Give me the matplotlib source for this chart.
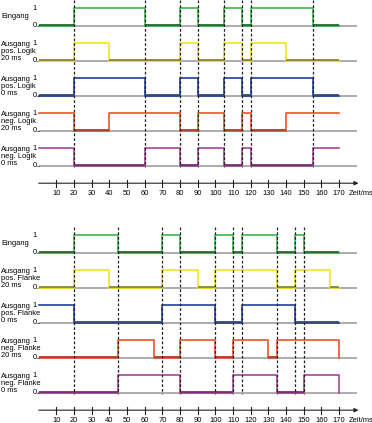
import numpy as np
import matplotlib
import matplotlib.pyplot as plt

matplotlib.use("Agg")
plt.rcParams["font.family"] = ["Liberation Sans", "DejaVu Sans"]

# --- data ---------------------------------------------------------------
labels = ["Eingang",
          "Ausgang\npos. Logik\n20 ms",
          "Ausgang\npos. Logik\n0 ms",
          "Ausgang\nneg. Logik\n20 ms",
          "Ausgang\nneg. Logik\n0 ms"]
labels2 = ["Eingang",
           "Ausgang\npos. Flanke\n20 ms",
           "Ausgang\npos. Flanke\n0 ms",
           "Ausgang\nneg. Flanke\n20 ms",
           "Ausgang\nneg. Flanke\n0 ms"]

# switching times (ms) and level right after each time
sig_top = [
    ([0, 20, 60, 80, 90, 105, 115, 120, 155, 170], [0, 1, 0, 1, 0, 1, 0, 1, 0]),
    ([0, 20, 40, 80, 90, 105, 115, 120, 140, 170], [0, 1, 0, 1, 0, 1, 0, 1, 0]),
    ([0, 20, 60, 80, 90, 105, 115, 120, 155, 170], [0, 1, 0, 1, 0, 1, 0, 1, 0]),
    ([0, 20, 40, 80, 90, 105, 115, 120, 140, 170], [1, 0, 1, 0, 1, 0, 1, 0, 1]),
    ([0, 20, 60, 80, 90, 105, 115, 120, 155, 170], [1, 0, 1, 0, 1, 0, 1, 0, 1]),
]
sig_bot = [
    ([0, 20, 45, 70, 80, 100, 110, 115, 135, 145, 150, 170], [0, 1, 0, 1, 0, 1, 0, 1, 0, 1, 0]),
    ([0, 20, 40, 70, 90, 100, 135, 145, 165, 170], [0, 1, 0, 1, 0, 1, 0, 1, 0]),
    ([0, 20, 70, 100, 115, 145, 170], [1, 0, 1, 0, 1, 0]),
    ([0, 45, 65, 80, 100, 110, 130, 135, 170, 170], [0, 1, 0, 1, 0, 1, 0, 1, 0]),
    ([0, 45, 80, 110, 135, 150, 170, 170], [0, 1, 0, 1, 0, 1, 0]),
]
dash_top = [20, 60, 80, 90, 105, 115, 120, 155]
dash_bot = [20, 45, 70, 80, 100, 110, 115, 135, 145, 150]
ticks = list(range(10, 180, 10))

colors = ["#3cb54a", "#f2e41c", "#1f3d9c", "#f0522a", "#a8449c"]
low_colors = ["#1d6b35", "#8a8630", "#34477f", "#a8402a", "#6e3468"]

# --- figure -------------------------------------------------------------
W, H = 372, 423
fig = plt.figure(figsize=(W / 100, H / 100), dpi=100)
ax = fig.add_axes([0, 0, 1, 1])
px_ms = 1.767
x0 = 38.7
ax.set_xlim(-x0 / px_ms, (W - x0) / px_ms)
unit = 17.5
y_top = 25.7 / unit
ax.set_ylim(y_top - H / unit, y_top)
ax.axis("off")

fs = 5.4
grey = "#a6a6a6"


def draw_block(base, sigs, names, dashes):
    for i, ((t, lv), name) in enumerate(zip(sigs, names)):
        b = base - 2 * i
        ax.plot([0, 180], [b, b], color=grey, lw=1.3, zorder=1, solid_capstyle="butt")
        xs, ys = [], []
        for k, v in enumerate(lv):
            xs += [t[k], t[k + 1]]
            ys += [b + v, b + v]
        ax.plot(xs, ys, color=colors[i], lw=1.2, zorder=3)
        for k, v in enumerate(lv):
            if v == 0:
                ax.plot([t[k], t[k + 1]], [b + 0.06, b + 0.06], color=low_colors[i],
                        lw=1.3, zorder=4, solid_capstyle="butt")
        ax.text(-2.2, b + 1, "1", fontsize=fs, ha="center", va="center")
        ax.text(-2.2, b, "0", fontsize=fs, ha="center", va="center")
        ax.plot([-1, 0], [b, b], color="#555555", lw=0.6)
        ax.text(-21.3, b + 0.55, name, fontsize=fs, ha="left", va="center",
                linespacing=1.0)
    for d in dashes:
        ax.plot([d, d], [base + 1.47, base - 8.05], color="#222222", lw=0.9,
                ls=(0, (2.2, 1.6)), zorder=5)
    ya = base - 9.0
    ax.annotate("", xy=(181, ya), xytext=(0, ya),
                arrowprops=dict(arrowstyle="-|>", color="#222222", lw=0.8,
                                mutation_scale=6, shrinkA=0, shrinkB=0))
    for tk in ticks:
        ax.plot([tk, tk], [ya - 0.2, ya + 0.2], color="#222222", lw=0.8)
        ax.text(tk, ya - 0.58, str(tk), fontsize=fs, ha="center", va="center")
    ax.text(175.3, ya - 0.58, "Zeit/ms", fontsize=fs, ha="left", va="center")


draw_block(0.0, sig_top, labels, dash_top)
draw_block(-12.97, sig_bot, labels2, dash_bot)

fig.savefig("out.png", dpi=100)
